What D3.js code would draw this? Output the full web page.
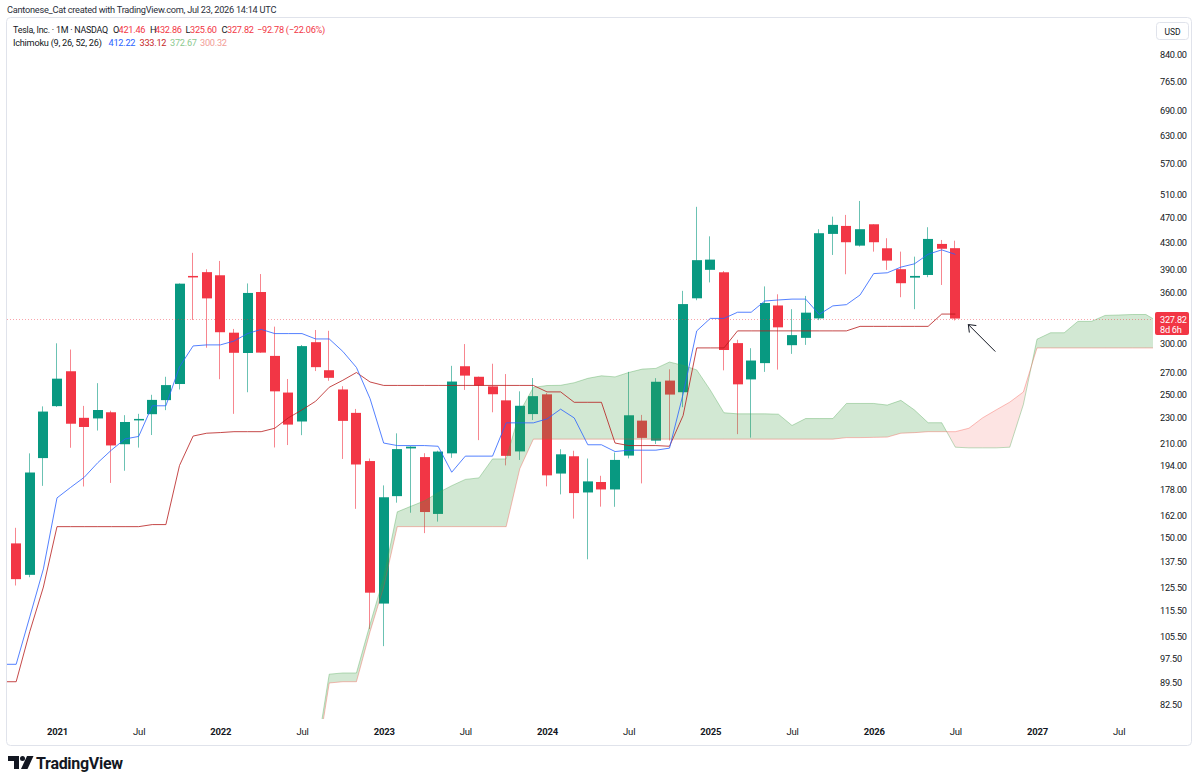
<!DOCTYPE html>
<html>
<head>
<meta charset="utf-8">
<script src="https://cdn.jsdelivr.net/npm/d3@7"></script>
<style>
  html, body { margin: 0; padding: 0; background: #fff; }
  svg { display: block; font-family: Roboto, "Liberation Sans", sans-serif; }
</style>
</head>
<body>
<svg id="chart" width="1199" height="782"></svg>
<script>
// TSLA monthly bars, Oct 2020 .. Jul 2026
const months = [
  '2020-10','2020-11','2020-12',
  '2021-01','2021-02','2021-03','2021-04','2021-05','2021-06','2021-07','2021-08','2021-09','2021-10','2021-11','2021-12',
  '2022-01','2022-02','2022-03','2022-04','2022-05','2022-06','2022-07','2022-08','2022-09','2022-10','2022-11','2022-12',
  '2023-01','2023-02','2023-03','2023-04','2023-05','2023-06','2023-07','2023-08','2023-09','2023-10','2023-11','2023-12',
  '2024-01','2024-02','2024-03','2024-04','2024-05','2024-06','2024-07','2024-08','2024-09','2024-10','2024-11','2024-12',
  '2025-01','2025-02','2025-03','2025-04','2025-05','2025-06','2025-07','2025-08','2025-09','2025-10','2025-11','2025-12',
  '2026-01','2026-02','2026-03','2026-04','2026-05','2026-06','2026-07'
];
const open = [
  146.9, 131.3, 199.2,
  239.8, 271.6, 230.0, 229.5, 234.6, 209.3, 228.0, 233.0, 245.0, 259.5, 381.7, 386.9,
  382.6, 311.7, 289.9, 360.4, 286.9, 251.7, 227.0, 301.3, 272.6, 254.5, 234.1, 197.1,
  118.5, 173.9, 206.2, 199.9, 163.2, 202.6, 276.5, 266.3, 257.3, 244.8, 204.0, 233.1,
  250.1, 188.5, 200.5, 176.2, 182.9, 178.1, 201.0, 227.7, 212.0, 262.7, 252.0, 352.4,
  390.1, 386.7, 300.3, 263.8, 279.6, 343.5, 298.1, 306.0, 328.0, 443.5, 456.3, 425.3,
  459.0, 421.3, 391.0, 379.4, 383.0, 427.9, 421.46
];
const high = [
  155.3, 202.6, 239.6,
  300.1, 293.5, 240.0, 260.3, 235.9, 232.2, 233.3, 249.7, 266.3, 371.7, 414.5, 390.9,
  402.7, 315.9, 371.6, 384.3, 318.5, 264.2, 298.3, 314.7, 313.8, 257.5, 237.4, 198.9,
  180.7, 217.6, 207.8, 202.7, 204.5, 276.9, 299.3, 266.5, 279.0, 268.9, 252.8, 265.1,
  251.3, 205.6, 204.5, 198.9, 187.0, 203.2, 271.0, 232.4, 265.0, 273.5, 361.9, 488.5,
  439.7, 388.4, 303.9, 294.9, 367.7, 357.5, 339.0, 355.4, 451.0, 471.7, 474.6, 498.84,
  459.0, 436.7, 416.3, 408.9, 454.2, 434.0, 432.86
];
const low = [
  126.4, 130.2, 180.4,
  239.1, 206.7, 180.0, 219.8, 182.3, 190.4, 206.8, 216.3, 236.4, 254.5, 326.2, 295.4,
  264.0, 233.3, 252.0, 290.1, 206.9, 208.7, 216.2, 271.8, 262.5, 198.6, 166.2, 108.2,
  101.8, 169.9, 163.9, 152.4, 158.8, 199.4, 254.1, 212.4, 234.6, 194.1, 197.9, 228.2,
  180.1, 175.0, 160.5, 138.8, 167.5, 167.4, 199.0, 182.0, 209.5, 212.1, 238.9, 350.0,
  373.0, 272.5, 217.0, 214.3, 271.0, 273.2, 289.0, 298.4, 326.0, 411.4, 384.0, 423.9,
  416.3, 390.0, 353.8, 339.0, 380.0, 369.6, 325.60
];
const close = [
  129.3, 189.2, 235.2,
  264.5, 225.2, 222.6, 236.5, 208.4, 226.6, 229.1, 245.2, 258.5, 371.3, 381.6, 352.3,
  312.2, 290.1, 359.2, 290.3, 252.8, 224.5, 297.1, 275.6, 265.3, 227.5, 194.7, 123.2,
  173.2, 205.7, 207.5, 164.3, 203.9, 261.8, 267.4, 258.1, 250.2, 200.8, 240.1, 248.5,
  187.3, 201.9, 175.8, 183.3, 178.1, 197.9, 232.1, 214.1, 261.6, 249.9, 345.2, 403.8,
  404.6, 293.0, 259.2, 282.2, 346.5, 317.7, 309.0, 334.8, 444.6, 458.0, 430.5, 451.0,
  430.5, 403.2, 371.9, 381.7, 435.6, 420.6, 327.82
];

// Ichimoku (9, 26, 52, 26)
const lineStart = '2020-09';
const tenkan = [
  95.4, 95.4, 113.0, 134.1,
  172.8, 179.4, 186.0, 196.0, 205.0, 213.3, 215.2, 240.1, 240.1, 275.9, 297.3, 298.4,
  298.4, 302.5, 310.7, 315.4, 310.7, 310.7, 310.7, 304.8, 304.8, 291.5, 275.3, 246.3,
  210.2, 208.3, 208.3, 208.3, 207.8, 189.4, 200.6, 200.6, 200.6, 225.9, 225.9, 225.9,
  229.1, 237.2, 229.9, 208.9, 208.9, 203.9, 204.9, 204.9, 204.9, 206.4, 250.4, 313.7,
  328.0, 328.0, 335.3, 335.3, 349.0, 350.3, 351.4, 351.4, 332.7, 343.0, 344.5, 356.6,
  384.9, 386.0, 393.9, 398.6, 412.4, 418.9, 412.22
];
const kijun = [
  89.65, 89.65, 107.2, 125.7,
  155.95, 155.95, 155.95, 155.95, 155.95, 155.95, 155.95, 157.1, 157.1, 194.0, 215.5, 217.7,
  218.2, 218.9, 218.9, 218.9, 221.6, 230.0, 236.6, 244.0, 256.5, 263.0, 270.4, 261.4,
  258.2, 258.2, 258.2, 258.2, 258.2, 258.2, 258.2, 258.2, 258.2, 258.2, 258.2, 258.2,
  252.3, 252.3, 243.1, 243.1, 243.1, 210.2, 208.3, 208.3, 208.3, 207.8, 231.9, 295.2,
  295.2, 295.2, 313.7, 313.7, 313.7, 313.7, 313.7, 313.7, 313.7, 313.7, 313.7, 318.8,
  318.8, 318.8, 318.8, 318.8, 318.8, 333.12, 333.12
];
const cloudStart = '2022-08';
const spanA = [
  68.0, 92.1, 92.5, 92.5, 110.1, 129.9, 164.4, 167.7, 171.0, 176.0, 180.5,
  184.6, 185.6, 198.6, 198.6, 234.9, 256.4, 258.1, 258.3, 260.7, 264.8,
  267.2, 266.2, 270.4, 273.7, 274.4, 280.7, 277.3, 272.9, 253.9, 234.2,
  233.3, 233.3, 233.3, 233.0, 223.8, 229.4, 229.4, 229.4, 242.1, 242.1,
  242.1, 240.7, 244.8, 236.5, 226.0, 226.0, 207.1, 206.6, 206.6, 206.6,
  207.1, 241.2, 304.5, 311.6, 311.6, 324.5, 324.5, 331.5, 332.0, 332.6,
  332.6, 323.2, 328.4, 329.1, 337.7, 351.9, 352.4, 356.4, 358.7, 365.6, 376.0, 372.67
];
const spanB = [
  65.7, 89.25, 89.65, 89.65, 107.2, 125.7, 155.95, 155.95, 155.95, 155.95, 155.95,
  155.95, 155.95, 155.95, 155.95, 191.75, 213.15, 213.15, 213.15, 213.15, 213.15,
  213.15, 213.15, 213.15, 213.15, 213.15, 213.15, 213.15, 213.15, 213.15, 213.15,
  213.15, 213.15, 213.15, 213.15, 213.15, 213.15, 213.15, 213.15, 214.3, 214.3,
  214.5, 214.7, 217.7, 218.15, 218.9, 218.9, 218.9, 221.6, 229.95, 236.6,
  243.25, 252.25, 295.15, 295.15, 295.15, 295.15, 295.15, 295.15, 295.15, 295.15,
  295.15, 295.15, 295.15, 295.15, 300.32, 300.32, 300.32, 300.32, 300.32, 300.32, 300.32, 300.32
];

const yTicks = [82.5, 89.5, 97.5, 105.5, 115.5, 125.5, 137.5, 150, 162, 178, 194, 210, 230, 250, 270, 300,
  360, 390, 430, 470, 510, 570, 630, 690, 765, 840];
const xTickMonths = ['2021-01','2021-07','2022-01','2022-07','2023-01','2023-07','2024-01','2024-07',
  '2025-01','2025-07','2026-01','2026-07','2027-01','2027-07'];
const xTickLabels = ['2021','Jul','2022','Jul','2023','Jul','2024','Jul','2025','Jul','2026','Jul','2027','Jul'];

const UP = '#089981', DOWN = '#F23645', INK = '#131722';
const plot = { left: 7, right: 1153, top: 18, bottom: 719 };

const mIdx = s => (+s.slice(0, 4) - 2021) * 12 + (+s.slice(5, 7) - 1);
const x = d3.scaleLinear().domain([0, 72]).range([57, 1037]);
const y = d3.scaleLog().domain([82.5, 840]).range([705, 55]);
const fmt = d3.format('.2f');

const svg = d3.select('#chart');
svg.append('rect').attr('width', 1199).attr('height', 782).attr('fill', '#fff');

svg.append('defs').append('clipPath').attr('id', 'plotClip')
  .append('rect')
  .attr('x', plot.left).attr('y', plot.top)
  .attr('width', plot.right - plot.left).attr('height', plot.bottom - plot.top);

// chart frame
svg.append('rect')
  .attr('x', 6.5).attr('y', 17.5).attr('width', 1185).attr('height', 728)
  .attr('rx', 4).attr('fill', 'none').attr('stroke', '#e0e3eb');

const g = svg.append('g').attr('clip-path', 'url(#plotClip)');

// candles
const bars = months.map((m, i) => ({ m: mIdx(m), o: open[i], h: high[i], l: low[i], c: close[i] }));
const col = d => d.c >= d.o ? UP : DOWN;

g.append('g').selectAll('rect').data(bars).join('rect')
  .attr('x', d => Math.round(x(d.m)) - 1)
  .attr('width', 1)
  .attr('y', d => y(d.h))
  .attr('height', d => y(d.l) - y(d.h))
  .attr('fill', col)
  .attr('opacity', 0.6);

g.append('g').selectAll('rect').data(bars).join('rect')
  .attr('x', d => Math.round(x(d.m)) - 5)
  .attr('width', 10)
  .attr('y', d => y(Math.max(d.o, d.c)))
  .attr('height', d => Math.max(1.5, Math.abs(y(d.o) - y(d.c))))
  .attr('fill', col);

// cloud, split where the spans cross
const c0 = mIdx(cloudStart);
const pts = spanA.map((a, i) => ({ x: x(c0 + i), a: y(a), b: y(spanB[i]) }));
const runs = [];
let cur = null;
pts.forEach((p, i) => {
  const up = p.a <= p.b;
  if (!cur) { cur = { up, pts: [p] }; return; }
  if (up !== cur.up) {
    const q = pts[i - 1];
    const d0 = q.a - q.b, d1 = p.a - p.b;
    const t = d0 / (d0 - d1);
    const cp = { x: q.x + t * (p.x - q.x), a: q.a + t * (p.a - q.a) };
    cp.b = cp.a;
    cur.pts.push(cp);
    runs.push(cur);
    cur = { up, pts: [cp, p] };
  } else cur.pts.push(p);
});
runs.push(cur);

const area = d3.area().x(d => d.x).y0(d => d.b).y1(d => d.a);
g.append('g').selectAll('path').data(runs).join('path')
  .attr('d', r => area(r.pts))
  .attr('fill', r => r.up ? 'rgba(67,160,71,0.24)' : 'rgba(244,67,54,0.14)');

g.append('path').attr('d', d3.line().x(d => d.x).y(d => d.a)(pts))
  .attr('fill', 'none').attr('stroke', 'rgba(67,160,71,0.35)').attr('stroke-width', 1);
g.append('path').attr('d', d3.line().x(d => d.x).y(d => d.b)(pts))
  .attr('fill', 'none').attr('stroke', 'rgba(244,67,54,0.35)').attr('stroke-width', 1);

// conversion & base lines
const l0 = mIdx(lineStart);
const line = d3.line().x((d, i) => x(l0 + i)).y(d => y(d));
g.append('path').attr('d', line(kijun))
  .attr('fill', 'none').attr('stroke', '#B71C1C').attr('stroke-opacity', 0.8).attr('stroke-width', 1);
g.append('path').attr('d', line(tenkan))
  .attr('fill', 'none').attr('stroke', '#2962FF').attr('stroke-opacity', 0.8).attr('stroke-width', 1);

// last price line
const last = bars[bars.length - 1];
const lastY = y(last.c);
g.append('line')
  .attr('x1', plot.left).attr('x2', plot.right)
  .attr('y1', Math.round(lastY) + 0.5).attr('y2', Math.round(lastY) + 0.5)
  .attr('stroke', DOWN).attr('stroke-opacity', 0.45).attr('stroke-dasharray', '1,2');

// arrow pointing at the last bar
const ax = x(last.m), tipX = ax + 13, tipY = lastY + 6;
const arrow = svg.append('g').attr('stroke', INK).attr('stroke-width', 1).attr('fill', 'none');
arrow.append('line').attr('x1', tipX + 27).attr('y1', tipY + 27).attr('x2', tipX).attr('y2', tipY);
arrow.append('path').attr('d', `M${tipX + 8},${tipY + 1} L${tipX},${tipY} L${tipX + 1},${tipY + 8}`);

// price axis
const yAxis = svg.append('g').attr('transform', `translate(${plot.right},0)`)
  .call(d3.axisRight(y).tickValues(yTicks).tickFormat(fmt).tickSize(0).tickPadding(7));
yAxis.select('.domain').remove();
yAxis.selectAll('text')
  .attr('font-family', 'Roboto, sans-serif').attr('font-size', 9.2)
  .attr('letter-spacing', -0.25).attr('fill', INK);

// last price label
const lbl = svg.append('g');
lbl.append('rect').attr('x', 1155).attr('y', Math.round(lastY) - 7).attr('width', 34).attr('height', 23)
  .attr('rx', 2).attr('fill', DOWN);
lbl.append('text').attr('x', 1160).attr('y', Math.round(lastY) + 3.5).text(fmt(last.c))
  .attr('fill', '#fff').attr('font-size', 9.2).attr('letter-spacing', -0.25);
lbl.append('text').attr('x', 1160).attr('y', Math.round(lastY) + 13.5).text('8d 6h')
  .attr('fill', '#fff').attr('font-size', 9.2).attr('letter-spacing', -0.25);

// currency box
svg.append('rect').attr('x', 1156.5).attr('y', 22.5).attr('width', 32).attr('height', 17)
  .attr('rx', 3).attr('fill', '#fff').attr('stroke', '#e0e3eb');
svg.append('text').attr('x', 1172.5).attr('y', 34.5).attr('text-anchor', 'middle')
  .attr('font-size', 8.5).attr('fill', INK).text('USD');

// time axis
const xAxis = svg.append('g').attr('transform', 'translate(0,735)')
  .call(d3.axisBottom(x).tickValues(xTickMonths.map(mIdx))
    .tickFormat((d, i) => xTickLabels[i]).tickSize(0).tickPadding(0));
xAxis.select('.domain').remove();
xAxis.selectAll('text')
  .attr('dy', null).attr('y', 0)
  .attr('font-family', 'Roboto, sans-serif').attr('font-size', 9.5)
  .attr('font-weight', (d, i) => xTickLabels[i] === 'Jul' ? 400 : 700)
  .attr('letter-spacing', -0.2).attr('fill', INK);

// header & legend
const txt = (tx, ty, s, fill, size) => svg.append('text')
  .attr('x', tx).attr('y', ty).attr('font-size', size || 9.2)
  .attr('letter-spacing', -0.25).attr('fill', fill || INK).text(s);

txt(7, 13, 'Cantonese_Cat created with TradingView.com, Jul 23, 2026 14:14 UTC', '#2a2e39');

const chg = last.c - close[close.length - 2];
const pct = chg / close[close.length - 2] * 100;
const upDown = last.c >= last.o ? UP : DOWN;
txt(13, 33, 'Tesla, Inc. · 1M · NASDAQ')
  .attr('textLength', 95).attr('lengthAdjust', 'spacingAndGlyphs');
txt(113, 33, 'O'); txt(118.5, 33, fmt(last.o), upDown);
txt(150, 33, 'H'); txt(155, 33, fmt(last.h), upDown);
txt(185.5, 33, 'L'); txt(190, 33, fmt(last.l), upDown);
txt(221.5, 33, 'C'); txt(227, 33, fmt(last.c), upDown);
txt(257, 33, `${d3.format('+.2f')(chg).replace('+', '')} (${d3.format('.2f')(pct)}%)`, upDown);

txt(13, 45.5, 'Ichimoku (9, 26, 52, 26)');
txt(108.5, 45.5, fmt(tenkan[tenkan.length - 1]), '#2962FF');
txt(139.5, 45.5, fmt(kijun[kijun.length - 1]), '#C62828');
txt(170, 45.5, fmt(spanA[spanA.length - 1]), '#8CC98F');
txt(200, 45.5, fmt(spanB[spanB.length - 1]), '#F29C96');

// TradingView mark
const logo = svg.append('g').attr('fill', INK);
logo.append('path').attr('d', 'M8,756 h11 v13 h-5 v-8 h-6 z');
logo.append('circle').attr('cx', 22.5).attr('cy', 758.5).attr('r', 2.5);
logo.append('path').attr('d', 'M27,756 h6.5 l-6,13 h-6.5 z');
svg.append('text').attr('x', 36).attr('y', 769).attr('font-size', 16).attr('font-weight', 700)
  .attr('letter-spacing', -0.3).attr('fill', INK).text('TradingView');
</script>
</body>
</html>
